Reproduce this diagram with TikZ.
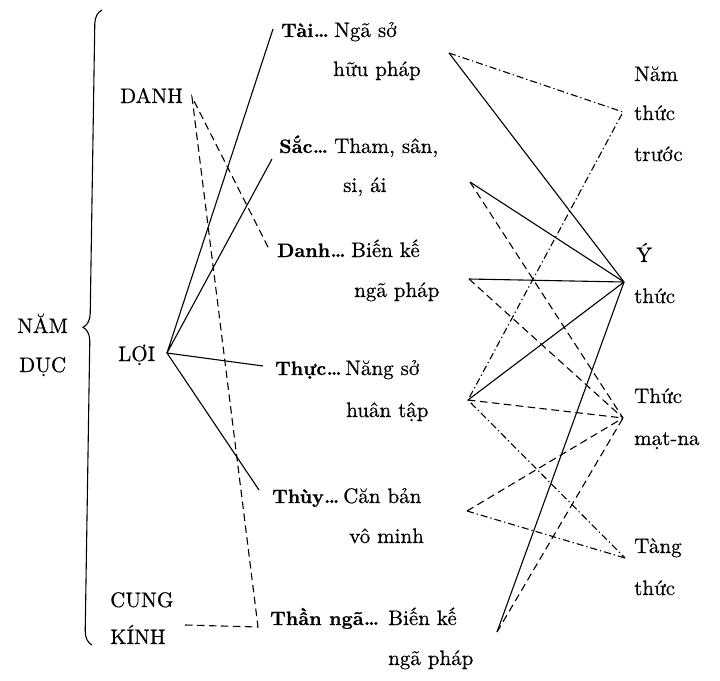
\documentclass[tikz,border=0pt]{standalone}
\usepackage{fontspec}
\setmainfont{lmroman10-regular}[Extension=.otf, BoldFont=lmroman10-bold, UprightFeatures={FakeBold=0.5}, BoldFeatures={FakeBold=0.6}]
\usetikzlibrary{decorations.pathreplacing}
\newcommand{\tdots}{\kern0.3pt.\kern-1.8pt.\kern-1.8pt.}
\begin{document}
\begin{tikzpicture}[x=1pt,y=-1pt,
  lbl/.style={inner sep=0pt, anchor=base west, font=\fontsize{21}{25}\selectfont},
  bl/.style={inner sep=0pt, anchor=base west, font=\fontsize{19.5}{25}\selectfont\bfseries},
  ln/.style={line width=1.1pt},
  dsh/.style={ln, dash pattern=on 7.5pt off 4.5pt},
  dd/.style={ln, dash pattern=on 7pt off 3pt on 1.3pt off 3pt}]
\useasboundingbox (0,0) rectangle (720,680);
% left labels
\node[lbl] (nam) at (17,333) {NĂM};
\node[lbl] (duc) at (19,372) {DỤC};
\node[lbl] (danhL) at (120,103) {DANH};
\node[lbl] (loi) at (118,361) {LỢI};
\node[lbl] (cung) at (110,607) {CUNG};
\node[lbl] (kinh) at (110,644) {KÍNH};
% middle labels
\node[bl] (taiB) at (281,37) {Tài\tdots};
\node[lbl] (tai1) at (334,37) {Ngã sở};
\node[lbl] (tai2) at (333,76) {hữu pháp};
\node[bl] (sacB) at (279,153) {Sắc\tdots};
\node[lbl] (sac1) at (334,153) {Tham, sân,};
\node[lbl] (sac2) at (343,192) {si, ái};
\node[bl] (danhB) at (277,257) {Danh\tdots};
\node[lbl] (danh1) at (351,257) {Biến kế};
\node[lbl] (danh2) at (354,297) {ngã pháp};
\node[bl] (thucB) at (275,375) {Thực\tdots};
\node[lbl] (thuc1) at (345,375) {Năng sở};
\node[lbl] (thuc2) at (346,417) {huân tập};
\node[bl] (thuyB) at (272,503) {Thùy\tdots};
\node[lbl] (thuy1) at (343,503) {Căn bản};
\node[lbl] (thuy2) at (349,543) {vô minh};
\node[bl] (thanB) at (270,625) {Thần ngã\tdots};
\node[lbl] (than1) at (388,625) {Biến kế};
\node[lbl] (than2) at (388,665) {ngã pháp};
% right labels
\node[lbl] (n1) at (634,81) {Năm};
\node[lbl] (n2) at (634,120) {thức};
\node[lbl] (n3) at (634,161) {trước};
\node[lbl] (y1) at (636,262) {Ý};
\node[lbl] (y2) at (634,303) {thức};
\node[lbl] (m1) at (634,403) {Thức};
\node[lbl] (m2) at (634,445) {mạt-na};
\node[lbl] (t1) at (634,553) {Tàng};
\node[lbl] (t2) at (634,595) {thức};
% connector points
\coordinate (pLoi) at (167,353);
\coordinate (pTai) at (273,29);
\coordinate (pSac) at (272,159);
\coordinate (pThuc) at (263,366);
\coordinate (pThuy) at (259,490);
\coordinate (pDanhL) at (192,97);
\coordinate (pDanh) at (269,249);
\coordinate (pCorner) at (258,627);
\coordinate (pCung) at (185,625);
\coordinate (A) at (449,53);
\coordinate (B) at (470,182);
\coordinate (C) at (469,279);
\coordinate (D) at (468,400);
\coordinate (E) at (467,511);
\coordinate (F) at (497,632);
\coordinate (N) at (623,112);
\coordinate (Y) at (624,282);
\coordinate (M) at (623,418);
\coordinate (T) at (625,558);
% brace
\draw[ln, decorate, decoration={brace, amplitude=14pt}] (92,645) -- (102,10);
% LOI lines
\draw[ln] (pTai) -- (pLoi) -- (pSac);
\draw[ln] (pThuc) -- (pLoi) -- (pThuy);
% DANH dashed
\draw[dsh] (pCung) -- (pCorner) -- (pDanhL) -- (pDanh);
% right solid
\draw[ln] (A) -- (Y);
\draw[ln] (B) -- (Y);
\draw[ln] (C) -- (Y);
\draw[ln] (D) -- (Y);
\draw[ln] (F) -- (Y);
% right dashed
\draw[dsh] (B) -- (M);
\draw[dsh] (C) -- (M);
\draw[dsh] (D) -- (M);
\draw[dsh] (E) -- (M);
\draw[dsh] (F) -- (M);
% right dash-dot
\draw[dd] (A) -- (N) -- (D) -- (T);
\draw[dd] (E) -- (T);
\end{tikzpicture}
\end{document}
